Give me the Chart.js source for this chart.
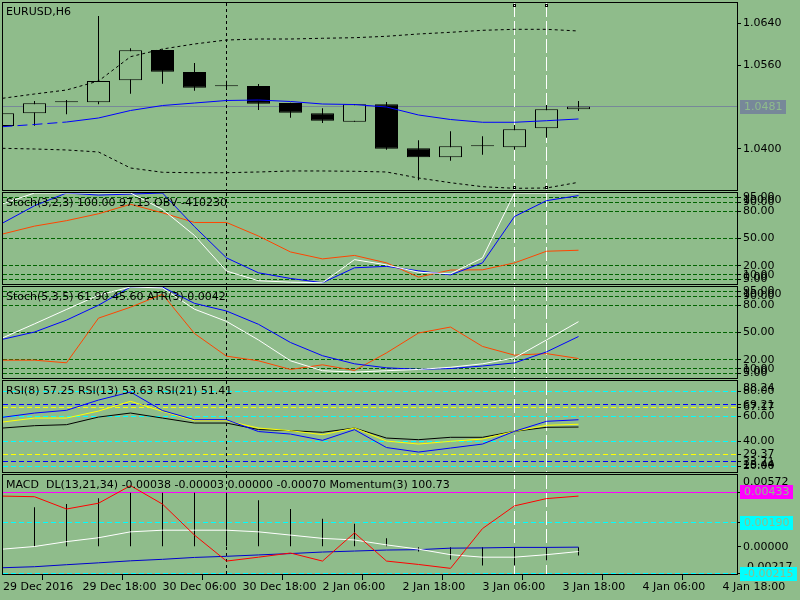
<!DOCTYPE html>
<html>
<head>
<meta charset="utf-8">
<title>EURUSD,H6</title>
<script src="https://cdn.jsdelivr.net/npm/chart.js@4.4.1/dist/chart.umd.min.js"></script>
<style>
html,body{margin:0;padding:0;width:800px;height:600px;overflow:hidden;background:#8FBC8B;}
.pane{position:absolute;left:0;width:800px;}
.pane canvas{display:block;}
</style>
</head>
<body>
<div class="pane" style="top:0;height:198px"><canvas id="c1"></canvas></div>
<div class="pane" style="top:185px;height:107px"><canvas id="c2"></canvas></div>
<div class="pane" style="top:279px;height:107px"><canvas id="c3"></canvas></div>
<div class="pane" style="top:373px;height:107px"><canvas id="c4"></canvas></div>
<div class="pane" style="top:467px;height:133px"><canvas id="c5"></canvas></div>
<script>
// ---------------- data ----------------
const xTickPos = [0, 2.5, 5, 7.5, 10, 12.5, 15, 17.5, 20, 22.5];
const xTickLabels = ['29 Dec 2016','29 Dec 18:00','30 Dec 06:00','30 Dec 18:00','2 Jan 06:00','2 Jan 18:00','3 Jan 06:00','3 Jan 18:00','4 Jan 06:00','4 Jan 18:00'];

const openP  = [1.04439,1.04681,1.04892,1.04892,1.05312,1.05890,1.05470,1.05215,1.05203,1.04878,1.04681,1.04521,1.04853,1.04013,1.03841,1.04051,1.04032,1.04395,1.04758];
const highP  = [1.04700,1.04916,1.04935,1.06540,1.05923,1.05904,1.05642,1.05304,1.05241,1.04884,1.04777,1.04853,1.04897,1.04166,1.04338,1.04242,1.04458,1.04840,1.04916];
const lowP   = [1.04420,1.04445,1.04662,1.04853,1.05056,1.05247,1.05113,1.05178,1.04744,1.04597,1.04496,1.04521,1.03986,1.03402,1.03776,1.03891,1.03986,1.04216,1.04725];
const closeP = [1.04681,1.04872,1.04892,1.05298,1.05884,1.05476,1.05170,1.05200,1.04865,1.04693,1.04540,1.04853,1.04006,1.03841,1.04051,1.04051,1.04376,1.04758,1.04810];
const bbUpper = [1.04968,1.05050,1.05126,1.05298,1.05762,1.05909,1.06005,1.06081,1.06100,1.06100,1.06114,1.06125,1.06152,1.06196,1.06228,1.06266,1.06285,1.06285,1.06253];
const bbLower = [1.04013,1.04000,1.03981,1.03943,1.03637,1.03555,1.03547,1.03547,1.03561,1.03580,1.03580,1.03574,1.03561,1.03446,1.03356,1.03280,1.03249,1.03255,1.03364];
const maLine  = [1.04426,1.04468,1.04515,1.04592,1.04735,1.04830,1.04878,1.04926,1.04935,1.04907,1.04859,1.04849,1.04802,1.04649,1.04563,1.04510,1.04510,1.04540,1.04573];
const currentPrice = 1.0481;
const priceTicks = [1.0640, 1.0560, 1.0400];

const stochAMain   = [88,100,100,100,100,82,53.3,14.2,3.6,2,1.4,26.8,21,12.9,11.2,28.7,100,100,100];
const stochASignal = [66.9,86,100,97.7,98.8,100,63,28.7,12.3,6.1,1.4,17.8,19.4,14.5,10,23.2,74.2,91.6,97.15];
const obvLine      = [54.9,63.6,69.6,77.2,87.6,78.2,67.6,67.6,52.7,35.2,27.6,31.4,23.2,7.6,15.3,15.6,23.2,36,37.1];

const stochBMain   = [44,59.5,75.3,91.1,100,99,75.6,62.2,41.8,18.9,8,6.5,8,9.4,11.8,15.6,22.1,41.8,61.9];
const stochBSignal = [42.5,50.5,63.6,80,100,100,82,73.6,59,39,24.5,15.6,11.2,9.5,10.4,13.2,16.6,28.7,45.6];
const atrLine      = [19.6,19.6,16.7,65.8,77.8,92,48.9,24,18.9,9.4,14.5,8.3,27.6,49.4,56,34.7,25.1,26.8,21.4];
const stochLevels  = [95, 90, 80, 50, 20, 10, 5];

const rsi8  = [59.2,62.6,64.8,73,79.4,64.6,57.3,57.3,47.8,45.8,40.8,49.3,35,31.4,34.6,37.8,48,56,57.25];
const rsi13 = [55.4,58.6,58.6,64.2,72,64,56.5,56.5,50.6,48.5,45.3,50.6,40.2,37.8,40,41.8,48,52.8,53.63];
const rsi21 = [50.6,52.5,53.3,59.4,62.6,58.6,54.6,54.6,49.4,48.5,47.2,50.6,42.6,41.3,43.2,43.2,48,51.2,51.41];
const rsiCyanLevels = [80, 60, 40, 20];
const rsiBlueLevels = [69.21, 23.71];
const rsiYellowLevels = [67.17, 29.37];

const macdHist = [0.00290,0.00314,0.00340,0.00386,0.00431,0.00431,0.00431,0.00431,0.00371,0.00301,0.00223,0.00184,0.00067,-0.00037,-0.00102,-0.00149,-0.00149,-0.00110,-0.00070];
const dlWhite  = [-0.00019,0.00002,0.00041,0.00072,0.00119,0.00132,0.00132,0.00132,0.00119,0.00093,0.00067,0.00054,0.00015,-0.00019,-0.00063,-0.00083,-0.00083,-0.00063,-0.00038];
const dlBlue   = [-0.00167,-0.00159,-0.00143,-0.00128,-0.00112,-0.00100,-0.00085,-0.00076,-0.00065,-0.00054,-0.00042,-0.00034,-0.00026,-0.00023,-0.00011,-0.00009,-0.00005,-0.00005,-0.00003];
const momentum = [0.00404,0.00399,0.00301,0.00347,0.00487,0.00340,0.00093,-0.00114,-0.00083,-0.00050,-0.00114,0.00111,-0.00114,-0.00141,-0.00172,0.00145,0.00326,0.00384,0.00404];
const macdMagentaLevel = [0.00433];
const macdCyanLevels = [0.00190, -0.00215];
const macdTicks = [0.00433, 0.00190, 0, -0.00215];

const markBlack = [7];
const markWhite = [16, 17];

// ---------------- styling / helpers ----------------
const BG = '#8FBC8B';
const FONT = '11px "DejaVu Sans"';
Chart.defaults.font.family = '"DejaVu Sans", sans-serif';
Chart.defaults.font.size = 11;
Chart.defaults.color = '#000';
Chart.defaults.animation = false;

const X_MIN = 1 / 64;
const X_MAX = X_MIN + 734 / 32;

const pts = arr => arr.map((v, i) => ({x: i, y: v}));
const line = (arr, color, order, extra) => Object.assign({
  type: 'line', data: pts(arr), borderColor: color, borderWidth: 1,
  pointRadius: 0, tension: 0, fill: false, order: order
}, extra || {});

function xScale(show) {
  return {
    type: 'linear', min: X_MIN, max: X_MAX, offset: false, display: show,
    grid: {display: true, drawOnChartArea: false, drawTicks: true, tickLength: 6, color: '#000'},
    border: {display: false},
    ticks: {autoSkip: false, maxRotation: 0, minRotation: 0, align: 'start', padding: 1,
            callback: (v, i) => xTickLabels[i]},
    afterBuildTicks: s => { s.ticks = xTickPos.map(v => ({value: Math.max(v, X_MIN)})); },
    afterFit: s => { s.height = show ? 26 : 0; s.paddingLeft = 0; s.paddingRight = 0; }
  };
}
function yScale(min, max, ticks, dec) {
  return {
    type: 'linear', position: 'right', min: min, max: max,
    grid: {display: true, drawOnChartArea: false, drawTicks: true, tickLength: 4, color: '#000'},
    border: {display: false},
    ticks: {autoSkip: false, padding: 2, callback: v => v.toFixed(dec)},
    afterBuildTicks: s => { s.ticks = ticks.map(v => ({value: v})); },
    afterFit: s => { s.width = 63; s.paddingTop = 0; s.paddingBottom = 0; }
  };
}

const DECO = {
  c1: {title: 'EURUSD,H6', titleDy: 9, dec: 4, squares: true,
       levels: [{v: currentPrice, color: '#778899'}],
       boxes: [{v: currentPrice, bg: '#778899'}]},
  c2: {title: 'Stoch(3,2,3) 100.00 97.15 OBV -410230', titleDy: 10, dec: 2, edge: true,
       levels: stochLevels.map(v => ({v: v, color: '#006400', dash: [4, 2]}))},
  c3: {title: 'Stoch(5,3,5) 61.90 45.60 ATR(3) 0.0042', titleDy: 10, dec: 2, edge: true,
       levels: stochLevels.map(v => ({v: v, color: '#006400', dash: [4, 2]}))},
  c4: {title: 'RSI(8) 57.25 RSI(13) 53.63 RSI(21) 51.41', titleDy: 10, dec: 2, edge: true,
       levels: rsiCyanLevels.map(v => ({v: v, color: '#00FFFF', dash: [5, 3]}))
         .concat(rsiBlueLevels.map(v => ({v: v, color: '#0000FF', dash: [5, 3]})))
         .concat(rsiYellowLevels.map(v => ({v: v, color: '#FFFF00', dash: [5, 3]})))},
  c5: {title: 'MACD  DL(13,21,34) -0.00038 -0.00003 0.00000 -0.00070 Momentum(3) 100.73', titleDy: 10, dec: 5, edge: true,
       levels: macdMagentaLevel.map(v => ({v: v, color: '#FF00FF'}))
         .concat(macdCyanLevels.map(v => ({v: v, color: '#00FFFF', dash: [5, 3]}))),
       boxes: macdMagentaLevel.map(v => ({v: v, bg: '#FF00FF'}))
         .concat(macdCyanLevels.map(v => ({v: v, bg: '#00FFFF'})))}
};

const paneDeco = {
  id: 'paneDeco',
  beforeDatasetsDraw(chart) {
    const o = DECO[chart.canvas.id];
    const {ctx, chartArea: a} = chart;
    const x = chart.scales.x, y = chart.scales.y;
    ctx.save();
    ctx.beginPath(); ctx.rect(a.left, a.top, a.right - a.left, a.bottom - a.top); ctx.clip();
    ctx.lineWidth = 1;
    (o.levels || []).forEach(l => {
      const py = Math.round(y.getPixelForValue(l.v) - 0.5) + 0.5;
      ctx.strokeStyle = l.color; ctx.setLineDash(l.dash || []);
      ctx.beginPath(); ctx.moveTo(a.left, py); ctx.lineTo(a.right, py); ctx.stroke();
    });
    const vl = (bars, color, dash) => bars.forEach(b => {
      const px = Math.round(x.getPixelForValue(b) - 0.5) + 0.5;
      ctx.strokeStyle = color; ctx.setLineDash(dash);
      ctx.beginPath(); ctx.moveTo(px, a.top); ctx.lineTo(px, a.bottom); ctx.stroke();
    });
    vl(markBlack, '#000000', [3, 3]);
    vl(markWhite, '#FFFFFF', [14, 4]);
    ctx.restore();
  },
  afterDraw(chart) {
    const o = DECO[chart.canvas.id];
    const {ctx, chartArea: a} = chart;
    const x = chart.scales.x, y = chart.scales.y;
    ctx.save();
    ctx.lineWidth = 1; ctx.setLineDash([]); ctx.strokeStyle = '#000';
    ctx.strokeRect(a.left - 0.5, a.top - 0.5, a.right - a.left + 1, a.bottom - a.top + 1);
    ctx.font = FONT; ctx.textBaseline = 'middle'; ctx.textAlign = 'left';
    ctx.fillStyle = '#000';
    ctx.fillText(o.title, a.left + 3, a.top + o.titleDy);
    if (o.edge) {
      ctx.fillText(y.max.toFixed(o.dec), a.right + 6, a.top + 7);
      ctx.fillText(y.min.toFixed(o.dec), a.right + 6, a.bottom - 7);
    }
    (o.boxes || []).forEach(b => {
      const py = Math.round(y.getPixelForValue(b.v));
      const t = b.v.toFixed(o.dec);
      const w = Math.round(ctx.measureText(t).width) + 8;
      ctx.fillStyle = b.bg; ctx.fillRect(a.right + 3, py - 7, w, 14);
      ctx.fillStyle = BG; ctx.fillText(t, a.right + 7, py);
    });
    if (o.squares) {
      markWhite.forEach(b => {
        const px = Math.round(x.getPixelForValue(b) - 0.5) + 0.5;
        [a.top + 1, a.bottom - 4].forEach(ty => {
          ctx.fillStyle = '#000'; ctx.fillRect(px - 1.5, ty, 3, 3);
          ctx.fillStyle = '#fff'; ctx.fillRect(px - 0.5, ty + 1, 1, 1);
        });
      });
    }
    ctx.restore();
  }
};

function paneChart(id, datasets, yOpts, padTop, padBottom, showX) {
  return new Chart(document.getElementById(id), {
    type: 'line',
    data: {datasets: datasets},
    options: {
      responsive: true, maintainAspectRatio: false, animation: false, events: [],
      layout: {autoPadding: false, padding: {left: 3, right: 0, top: padTop, bottom: padBottom}},
      scales: {x: xScale(showX), y: yOpts},
      plugins: {legend: {display: false}, tooltip: {enabled: false}}
    },
    plugins: [paneDeco]
  });
}

// ---------------- pane 1: candles ----------------
paneChart('c1', [
  {type: 'bar', data: highP.map((h, i) => ({x: i, y: [lowP[i], h]})), backgroundColor: '#000',
   borderWidth: 0, barThickness: 1, grouped: false, inflateAmount: 0, order: 10},
  {type: 'bar', data: openP.map((o, i) => ({x: i, y: [o, closeP[i]]})),
   backgroundColor: closeP.map((c, i) => c > openP[i] ? BG : '#000'),
   borderColor: '#000', borderWidth: 1, borderSkipped: false, barThickness: 23,
   grouped: false, inflateAmount: 0, minBarLength: 1, order: 9},
  line(bbUpper, '#000', 3, {borderDash: [3, 3]}),
  line(bbLower, '#000', 3, {borderDash: [3, 3]}),
  line(maLine, '#0000FF', 1, {segment: {borderDash: c => c.p0DataIndex < 2 ? [10, 5] : undefined}})
], yScale(1.032169, 1.067876, priceTicks, 4), 3, 8, false);

// ---------------- pane 2 ----------------
paneChart('c2', [
  line(obvLine, '#FF4500', 3),
  line(stochASignal, '#0000FF', 2),
  line(stochAMain, '#FFFFFF', 1)
], yScale(0, 100, stochLevels, 2), 8, 8, false);

// ---------------- pane 3 ----------------
paneChart('c3', [
  line(atrLine, '#FF4500', 3),
  line(stochBSignal, '#0000FF', 2),
  line(stochBMain, '#FFFFFF', 1)
], yScale(0, 100, stochLevels, 2), 8, 8, false);

// ---------------- pane 4 ----------------
paneChart('c4', [
  line(rsi21, '#000000', 3),
  line(rsi13, '#FFFF00', 2),
  line(rsi8, '#0000FF', 1)
], yScale(15.44, 88.24, rsiCyanLevels.concat(rsiBlueLevels, rsiYellowLevels), 2), 8, 8, false);

// ---------------- pane 5 ----------------
paneChart('c5', [
  {type: 'bar', data: macdHist.map((v, i) => ({x: i, y: [0, v]})), backgroundColor: '#000',
   borderWidth: 0, barThickness: 1, grouped: false, inflateAmount: 0, order: 10},
  line(dlBlue, '#0000CD', 3),
  line(dlWhite, '#FFFFFF', 2),
  line(momentum, '#FF0000', 1)
], yScale(-0.00217, 0.00572, macdTicks, 5), 8, 0, true);
</script>
</body>
</html>
